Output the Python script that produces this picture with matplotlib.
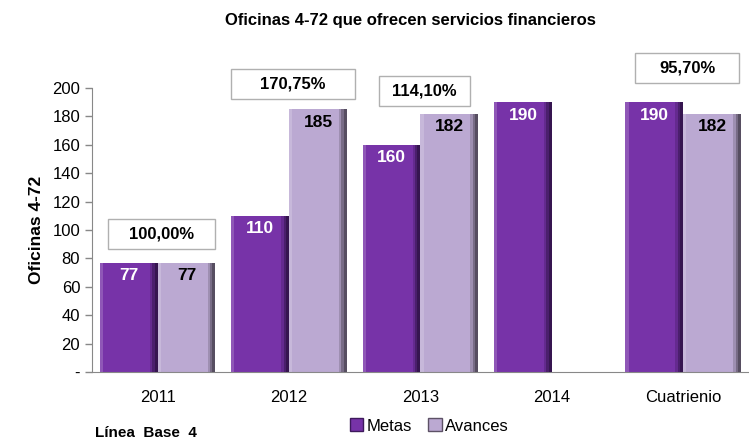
import numpy as np
import matplotlib.pyplot as plt
from matplotlib.patches import Rectangle

plt.rcParams['font.family'] = ['Liberation Sans', 'DejaVu Sans']

# Data
categories = ['2011', '2012', '2013', '2014', 'Cuatrienio']
metas = [77, 110, 160, 190, 190]
avances = [77, 185, 182, None, 182]
pct_labels = ['100,00%', '170,75%', '114,10%', None, '95,70%']
pct_y = [97, 203, 198, None, 214]
pct_w = [0.81, 0.94, 0.69, None, 0.79]

c_metas = '#7733a8'
c_avances = '#bba9d2'

fig = plt.figure(figsize=(7.49, 4.41), dpi=100)
ax = fig.add_axes([0.1228, 0.1565, 0.8772, 0.6440])

x = np.arange(len(categories))
w = 0.44

def draw_bar(xc, h, color, edge_dark):
    ax.bar(xc, h, width=w, color=color, edgecolor='none', zorder=2)
    # soft bevel shading on the right side
    for k, a in enumerate([0.25, 0.45, 0.7]):
        sw = 0.06 - k * 0.018
        ax.bar(xc + w / 2 - sw / 2, h, width=sw, color=edge_dark, edgecolor='none',
               zorder=3, alpha=a)
    ax.bar(xc - w / 2 + 0.012, h, width=0.024, color='white', edgecolor='none',
           zorder=3, alpha=0.18)

for i in range(len(categories)):
    if metas[i] is not None:
        draw_bar(x[i] - w / 2, metas[i], c_metas, '#2e1245')
        ax.text(x[i] - w / 2, metas[i] - 4, str(metas[i]), ha='center', va='top',
                color='white', fontsize=12.5, fontweight='bold', zorder=5)
    if avances[i] is not None:
        draw_bar(x[i] + w / 2, avances[i], c_avances, '#4a4252')
        ax.text(x[i] + w / 2, avances[i] - 4, str(avances[i]), ha='center', va='top',
                color='black', fontsize=12.5, fontweight='bold', zorder=5)
    if pct_labels[i] is not None:
        ax.add_patch(Rectangle((x[i] + 0.03 - pct_w[i] / 2, pct_y[i] - 10.5), pct_w[i], 21,
                               fc='white', ec='#b0b0b0', lw=1.0, zorder=6, clip_on=False))
        ax.text(x[i] + 0.03, pct_y[i], pct_labels[i], ha='center', va='center', fontsize=12,
                fontweight='bold', zorder=7, clip_on=False)

ax.set_xlim(-0.5, len(categories) - 0.5)
ax.set_ylim(0, 200)
ax.set_yticks(np.arange(0, 201, 20))
ax.set_yticklabels(['-'] + [str(v) for v in range(20, 201, 20)])
ax.set_xticks(x)
ax.set_xticklabels(categories)
ax.tick_params(axis='y', labelsize=12, color='#888888', length=5, width=1, direction='out')
ax.tick_params(axis='x', labelsize=12, length=0, pad=13)
for s in ['top', 'right']:
    ax.spines[s].set_visible(False)
ax.spines['left'].set_color('#888888')
ax.spines['bottom'].set_color('#888888')

ax.set_ylabel('Oficinas 4-72', fontsize=12.5, fontweight='bold', labelpad=6)
fig.text(0.548, 0.953, 'Oficinas 4-72 que ofrecen servicios financieros',
         ha='center', va='center', fontsize=12, fontweight='bold')

handles = [Rectangle((0, 0), 1, 1, fc=c_metas, ec='#3e1a5c'),
           Rectangle((0, 0), 1, 1, fc=c_avances, ec='#5d5266')]
fig.legend(handles, ['Metas', 'Avances'], loc='center', bbox_to_anchor=(0.573, 0.034),
           ncol=2, frameon=False, fontsize=12, handlelength=0.8, handleheight=0.8,
           handletextpad=0.2, columnspacing=1.0)
fig.text(0.127, 0.002, 'Línea  Base  4', ha='left', va='bottom', fontsize=11, fontweight='bold')

fig.savefig('out.png', dpi=100)
